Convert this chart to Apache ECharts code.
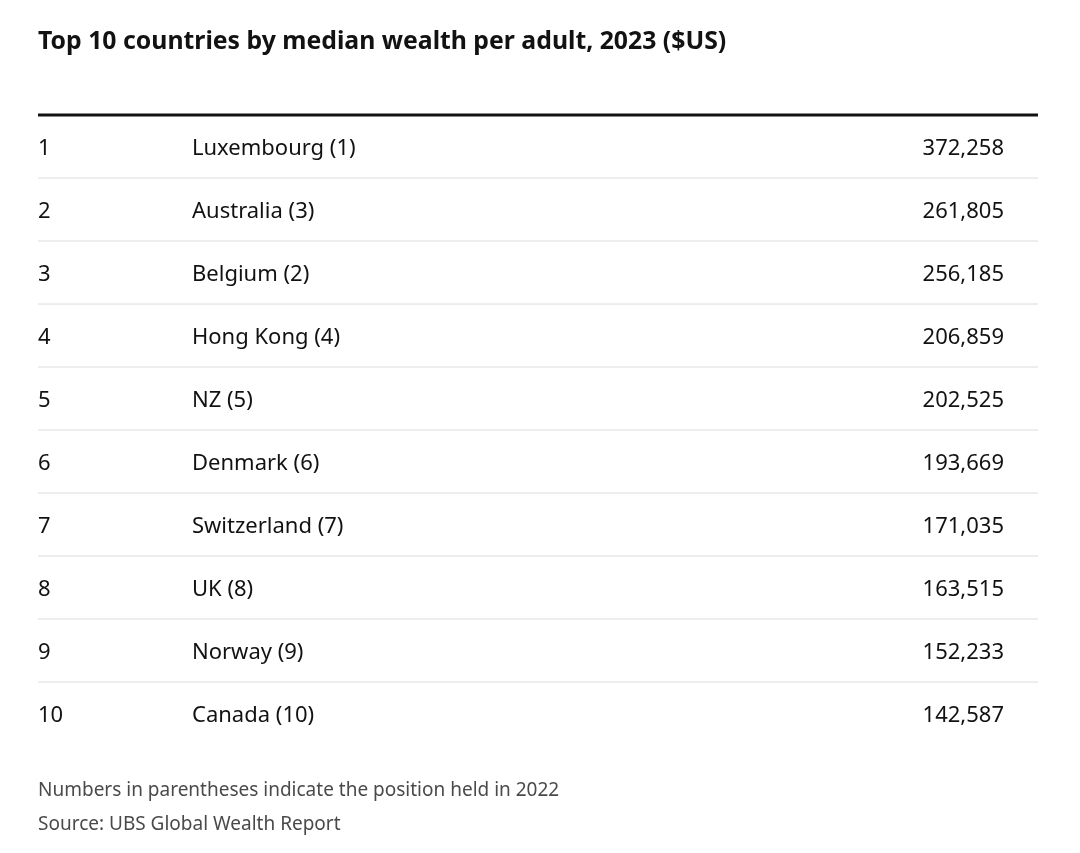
<!DOCTYPE html>
<html>
<head>
<meta charset="utf-8">
<script src="https://cdn.jsdelivr.net/npm/echarts@6/dist/echarts.min.js"></script>
<style>
html,body{margin:0;padding:0;background:#fff;}
#chart{width:1080px;height:853px;}
</style>
</head>
<body>
<div id="chart"></div>
<script>
const ranks = ['1','2','3','4','5','6','7','8','9','10'];
const countries = ['Luxembourg (1)','Australia (3)','Belgium (2)','Hong Kong (4)','NZ (5)','Denmark (6)','Switzerland (7)','UK (8)','Norway (9)','Canada (10)'];
const wealth = [372258, 261805, 256185, 206859, 202525, 193669, 171035, 163515, 152233, 142587];
const titleText = 'Top 10 countries by median wealth per adult, 2023 ($US)';
const noteText = 'Numbers in parentheses indicate the position held in 2022';
const sourceText = 'Source: UBS Global Wealth Report';

const FONT = '"Noto Sans", "Open Sans", sans-serif';
const fmt = v => v.toLocaleString('en-US');

const chart = echarts.init(document.getElementById('chart'), null, {renderer: 'canvas'});
const rows = ranks.map((r, i) => [i, r, countries[i], wealth[i]]);

chart.setOption({
  animation: false,
  backgroundColor: '#ffffff',
  title: [
    {text: titleText, left: 38, top: 29, padding: 0, textStyle: {fontFamily: FONT, fontSize: 24.8, fontWeight: 'bold', color: '#121212'}},
    {text: noteText, left: 38, top: 781, padding: 0, textStyle: {fontFamily: FONT, fontSize: 19, fontWeight: 'normal', color: '#4a4a4a'}},
    {text: sourceText, left: 38, top: 815, padding: 0, textStyle: {fontFamily: FONT, fontSize: 19, fontWeight: 'normal', color: '#4a4a4a'}}
  ],
  grid: {left: 38, right: 42, top: 115, bottom: 108},
  xAxis: {type: 'value', min: 0, max: 1000, show: false},
  yAxis: {type: 'category', data: ranks, inverse: true, show: false},
  series: [{
    type: 'custom',
    data: rows,
    encode: {y: 0},
    renderItem: function (params, api) {
      const idx = api.value(0);
      const c = api.coord([0, idx]);
      const rowH = api.size([0, 1])[1];
      const xRank = api.coord([0, idx])[0];
      const xName = api.coord([154, idx])[0];
      const xVal = api.coord([966, idx])[0];
      const xEnd = api.coord([1000, idx])[0];
      const cy = c[1];
      const ty = cy + 2;
      const f = '22px ' + FONT;
      const children = [
        {type: 'text', style: {x: xRank, y: ty, text: rows[idx][1], fill: '#121212', font: f, textAlign: 'left', textVerticalAlign: 'middle'}},
        {type: 'text', style: {x: xName, y: ty, text: rows[idx][2], fill: '#121212', font: f, textAlign: 'left', textVerticalAlign: 'middle'}},
        {type: 'text', style: {x: xVal, y: ty, text: fmt(rows[idx][3]), fill: '#121212', font: f, textAlign: 'right', textVerticalAlign: 'middle'}}
      ];
      if (idx === 0) {
        children.push({type: 'line', shape: {x1: xRank, y1: cy - rowH / 2, x2: xEnd, y2: cy - rowH / 2}, style: {stroke: '#121212', lineWidth: 3}});
      }
      if (idx < ranks.length - 1) {
        children.push({type: 'line', shape: {x1: xRank, y1: cy + rowH / 2, x2: xEnd, y2: cy + rowH / 2}, style: {stroke: '#dcdcdc', lineWidth: 1}});
      }
      return {type: 'group', children: children};
    }
  }]
});
</script>
</body>
</html>
